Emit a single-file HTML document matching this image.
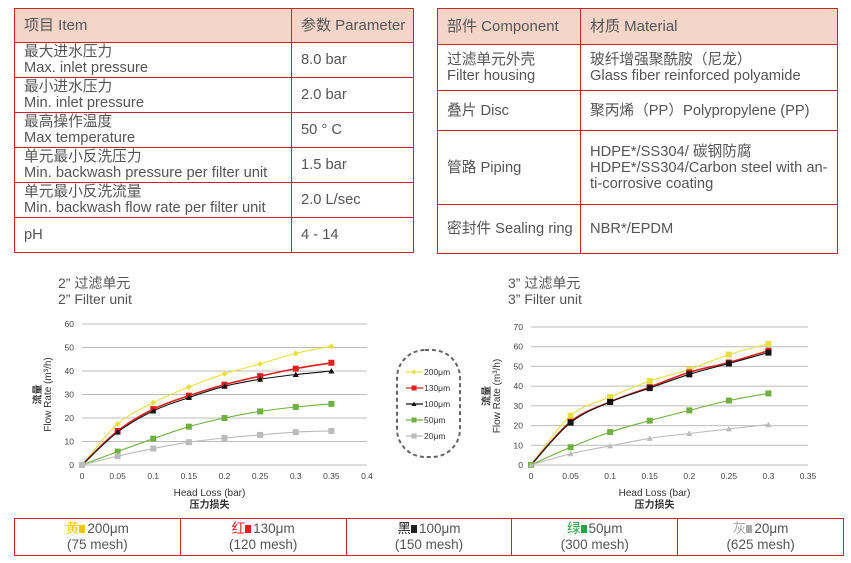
<!DOCTYPE html>
<html><head><meta charset="utf-8"><style>
body{margin:0;width:851px;height:563px;background:#fff;font-family:"Liberation Sans","Noto Sans CJK SC",sans-serif;color:#555;position:relative;overflow:hidden}
table{position:absolute;border-collapse:collapse;font-size:14.7px;color:#555}
td{border:1.5px solid #d0202a;padding:0 0 0 9px;line-height:16px;vertical-align:middle;white-space:nowrap}
tr.h td{background:#f5d5c8;font-size:15px}
.t{position:absolute;font-size:14px;color:#555;line-height:16px}
.leg{position:absolute;left:14px;top:518px;width:828px;height:36px;border:1.5px solid #d0202a;display:flex}
.leg div{flex:1;border-left:1.5px solid #d0202a;text-align:center;font-size:13.5px;line-height:16px;padding-top:2px;color:#555}
.leg div:first-child{border-left:none}
.sq{display:inline-block;width:6px;height:8px;margin-right:2px}
</style></head><body>
<table style="left:14px;top:8px;width:400px">
<tr class="h" style="height:34px"><td style="width:267px">项目 Item</td><td>参数 Parameter</td></tr>
<tr style="height:35px"><td>最大进水压力<br>Max. inlet pressure</td><td>8.0 bar</td></tr>
<tr style="height:35px"><td>最小进水压力<br>Min. inlet pressure</td><td>2.0 bar</td></tr>
<tr style="height:35px"><td>最高操作温度<br>Max temperature</td><td>50 ° C</td></tr>
<tr style="height:35px"><td>单元最小反洗压力<br>Min. backwash pressure per filter unit</td><td>1.5 bar</td></tr>
<tr style="height:35px"><td>单元最小反洗流量<br>Min. backwash flow rate per filter unit</td><td>2.0 L/sec</td></tr>
<tr style="height:35px"><td>pH</td><td>4 - 14</td></tr>
</table>
<table style="left:437px;top:8px;width:401px">
<tr class="h" style="height:36px"><td style="width:133px">部件 Component</td><td>材质 Material</td></tr>
<tr style="height:46px"><td>过滤单元外壳<br>Filter housing</td><td>玻纤增强聚酰胺（尼龙）<br>Glass fiber reinforced polyamide</td></tr>
<tr style="height:40px"><td>叠片 Disc</td><td>聚丙烯（PP）Polypropylene (PP)</td></tr>
<tr style="height:74px"><td>管路 Piping</td><td style="padding-right:2px">HDPE*/SS304/ 碳钢防腐<br>HDPE*/SS304/Carbon steel with an-<br>ti-corrosive coating</td></tr>
<tr style="height:49px"><td>密封件 Sealing ring</td><td>NBR*/EPDM</td></tr>
</table>
<div class="t" style="left:58px;top:275px">2”&nbsp;过滤单元<br>2”&nbsp;Filter unit</div>
<div class="t" style="left:508px;top:275px">3”&nbsp;过滤单元<br>3”&nbsp;Filter unit</div>
<svg id="s" width="851" height="563" style="position:absolute;left:0;top:0" font-family="Liberation Sans, Noto Sans CJK SC, sans-serif"></svg>
<div class="leg">
<div><span style="color:#f5c400">黄</span><span class="sq" style="background:#f5c400"></span>200μm<br>(75 mesh)</div>
<div><span style="color:#e02020">红</span><span class="sq" style="background:#e02020"></span>130μm<br>(120 mesh)</div>
<div><span style="color:#222">黑</span><span class="sq" style="background:#222"></span>100μm<br>(150 mesh)</div>
<div><span style="color:#2aa040">绿</span><span class="sq" style="background:#2aa040"></span>50μm<br>(300 mesh)</div>
<div><span style="color:#aaa">灰</span><span class="sq" style="background:#aaa"></span>20μm<br>(625 mesh)</div>
</div>
<script>
var s='';
var cols=['#e8e040','#e02020','#111','#70b040','#bbb'];
function smooth(P){var d='M'+P[0][0]+','+P[0][1];
 for(var i=0;i<P.length-1;i++){var p0=P[i-1]||P[i],p1=P[i],p2=P[i+1],p3=P[i+2]||p2;
  var c1=[p1[0]+(p2[0]-p0[0])/6,p1[1]+(p2[1]-p0[1])/6],c2=[p2[0]-(p3[0]-p1[0])/6,p2[1]-(p3[1]-p1[1])/6];
  d+=' C'+c1[0].toFixed(1)+','+c1[1].toFixed(1)+' '+c2[0].toFixed(1)+','+c2[1].toFixed(1)+' '+p2[0].toFixed(1)+','+p2[1].toFixed(1);}
 return d;}
function chart(x0,x1,xmax,xstep,ymax,ystep,data,mk){
 var y0=465,yt=ymax==60?324:327;
 var X=function(v){return x0+v/xmax*(x1-x0)},Y=function(v){return y0-v/ymax*(y0-yt)};
 for(var v=0;v<=ymax+0.01;v+=ystep){s+='<line x1="'+x0+'" x2="'+x1+'" y1="'+Y(v)+'" y2="'+Y(v)+'" stroke="#bbb" stroke-width="1"/>';
  s+='<text x="'+(x0-8)+'" y="'+(Y(v)+3)+'" font-size="8.5" fill="#444" text-anchor="end">'+v+'</text>';}
 for(var i=0;i*xstep<=xmax+1e-9;i++){var xv=+(i*xstep).toFixed(2);s+='<text x="'+X(xv)+'" y="479" font-size="8.5" fill="#444" text-anchor="middle">'+xv+'</text>';}
 var cx=(x0+x1)/2-15;
 s+='<text x="'+cx+'" y="496" font-size="10" fill="#333" text-anchor="middle">Head Loss (bar)</text>';
 s+='<text x="'+cx+'" y="508" font-size="10" font-weight="bold" fill="#333" text-anchor="middle">压力损失</text>';
 var ym=(y0+yt)/2;
 s+='<text transform="translate('+(x0-31)+','+ym+') rotate(-90)" font-size="10" fill="#333" text-anchor="middle">Flow Rate (m³/h)</text>';
 s+='<text transform="translate('+(x0-41)+','+ym+') rotate(-90)" font-size="10" font-weight="bold" fill="#333" text-anchor="middle">流量</text>';
 data.forEach(function(d,k){var P=d.map(function(v,i){return [X(i*0.05),Y(v)]});
  s+='<path d="'+smooth(P)+'" fill="none" stroke="'+cols[k]+'" stroke-width="'+(k==1?1.6:1.1)+'"/>';
  d.forEach(function(v,i){var x=X(i*0.05),y=Y(v),m=mk[k];
   if(m=='d')s+='<polygon points="'+x+','+(y-3)+' '+(x+3)+','+y+' '+x+','+(y+3)+' '+(x-3)+','+y+'" fill="'+cols[k]+'"/>';
   else if(m=='t')s+='<polygon points="'+x+','+(y-3)+' '+(x+3)+','+(y+2.5)+' '+(x-3)+','+(y+2.5)+'" fill="'+cols[k]+'"/>';
   else s+='<rect x="'+(x-3)+'" y="'+(y-3)+'" width="6" height="6" fill="'+cols[k]+'"/>';});});
}
chart(82,367,0.4,0.05,60,10,[[0,17.5,26.5,33.2,38.8,43,47.5,50.5],[0,14.5,23.8,29.5,34.2,37.8,41,43.5],[0,14,23,28.7,33.5,36.5,38.5,40],[0,5.7,11.2,16.3,20,22.8,24.7,26],[0,3.8,7,9.7,11.5,12.8,14,14.5]],['d','s','t','s','s']);
chart(531,808,0.35,0.05,70,10,[[0,25,34.5,42.5,48.5,56,61.5],[0,22,32,39.5,47,52,58],[0,21.5,32,39,46,51.5,57],[0,9,16.7,22.5,27.7,32.7,36.3],[0,5.7,9.7,13.5,16,18.3,20.5]],['s','s','s','s','t']);
s+='<rect x="397" y="350" width="63" height="107" rx="28" fill="none" stroke="#666" stroke-width="2" stroke-dasharray="4,3"/>';
['200μm','130μm','100μm','50μm','20μm'].forEach(function(t,k){var y=372+k*16;var m=k==0?'d':k==2?'t':'s';
 s+='<line x1="406" x2="423" y1="'+y+'" y2="'+y+'" stroke="'+cols[k]+'" stroke-width="1.2"/>';
 if(m=='d')s+='<polygon points="414,'+(y-2.5)+' 416.5,'+y+' 414,'+(y+2.5)+' 411.5,'+y+'" fill="'+cols[k]+'"/>';
 else if(m=='t')s+='<polygon points="414,'+(y-2.5)+' 416.5,'+(y+2)+' 411.5,'+(y+2)+'" fill="'+cols[k]+'"/>';
 else s+='<rect x="411.5" y="'+(y-2.5)+'" width="5" height="5" fill="'+cols[k]+'"/>';
 s+='<text x="424" y="'+(y+3)+'" font-size="8.5" fill="#333">'+t+'</text>';});
document.getElementById('s').innerHTML=s;
</script>
</body></html>
